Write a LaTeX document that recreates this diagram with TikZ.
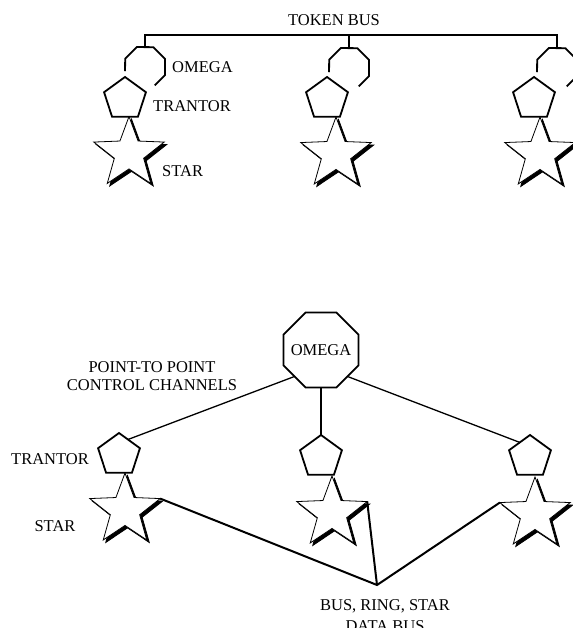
\documentclass[tikz,border=0pt]{standalone}
\usepackage{fontspec}
\setmainfont{Liberation Serif}
\usetikzlibrary{shapes.geometric}
\begin{document}
\begin{tikzpicture}[x=1bp,y=1bp,
  lbl/.style={font=\fontsize{16.5bp}{20bp}\selectfont, inner sep=0, anchor=base},
  octo/.style={regular polygon, regular polygon sides=8, minimum size=#1, inner sep=0, outer sep=0},
  penta/.style={regular polygon, regular polygon sides=5, minimum size=44bp, inner sep=0, outer sep=0, draw, line width=1.8bp, fill=white},
  starshape/.style={star, star points=5, star point ratio=2.4, minimum size=74bp, inner sep=0, outer sep=0},
  starfront/.style={starshape, draw, line width=0.8bp, fill=white},
  starback/.style={starshape, draw, fill=black, line width=0.8bp},
  shapeline/.style={line width=1.8bp},
  busline/.style={line width=2bp},
  dropline/.style={line width=1.6bp},
  ctrlline/.style={line width=1.3bp},
  dataline/.style={line width=2bp}
]
\useasboundingbox (0,0) rectangle (573,-628);

% ---------- top: token bus ----------
\node[octo=43.2bp] (o1) at (145,-67) {};
\node[octo=43.2bp] (o2) at (349,-68) {};
\node[octo=43.2bp] (o3) at (557,-68) {};
\coordinate (bus) at (0,-35);
\draw[busline] (o1.north) -- (o1.north |- bus) -- (o3.north |- bus) -- (o3.north);
\draw[dropline] (o2.north |- bus) -- (o2.north);
\foreach \o in {o1,o2,o3}{
  \draw[shapeline] (\o.192) -- (\o.157.5) -- (\o.112.5) -- (\o.67.5) -- (\o.22.5) -- (\o.-22.5) -- (\o.-62);
}
\node[lbl] (tokenbus) at (334,-26) {TOKEN BUS};

\node[starback] (s1b) at (131.5,-156) {};
\node[starfront] (s1) at (129,-153.5) {};
\node[starback] (s2b) at (338.5,-156.5) {};
\node[starfront] (s2) at (336,-154) {};
\node[starback] (s3b) at (542.5,-156.5) {};
\node[starfront] (s3) at (540,-154) {};

\node[penta] (t1) at (125,-99) {};
\node[penta] (t2) at (327,-99) {};
\node[penta] (t3) at (534,-99) {};

\node[lbl, anchor=base west] (omegatop) at (172,-73) {OMEGA};
\node[lbl, anchor=base west] (trantortop) at (153,-112) {TRANTOR};
\node[lbl, anchor=base west] (startop) at (162,-177) {STAR};

% ---------- bottom: point-to-point ----------
\node[octo=81bp, draw, shapeline] (om) at (321,-350) {};
\node[lbl] (omegabig) at (321,-355) {OMEGA};

\node[starback] (slb) at (127.5,-512.5) {};
\node[starfront] (sl) at (125,-510) {};
\node[starback] (smb) at (334.5,-515.5) {};
\node[starfront] (sm) at (332,-513) {};
\node[starback] (srb) at (537.5,-516.5) {};
\node[starfront] (sr) at (535,-514) {};

\node[penta] (pl) at (119,-455) {};
\node[penta] (pm) at (321,-457) {};
\node[penta] (pr) at (530,-457) {};

\draw[ctrlline] (om.225) -- (pl.60);
\draw[ctrlline] (om.south) -- (pm.north);
\draw[ctrlline] (om.315) -- (pr.125);

\coordinate (hub) at (377,-585);
\draw[dataline] (sl.outer point 5) -- (hub) -- (sr.outer point 2);
\draw[dataline] (sm.outer point 5) -- (hub);

\node[lbl] (ptp1) at (152,-372) {POINT-TO POINT};
\node[lbl] (ptp2) at (152,-390) {CONTROL CHANNELS};
\node[lbl] (trantorbot) at (50,-464) {TRANTOR};
\node[lbl] (starbot) at (55,-531) {STAR};
\node[lbl] (busring) at (385,-610) {BUS, RING, STAR};
\node[lbl] (databus) at (385,-631) {DATA BUS};
\end{tikzpicture}
\end{document}
